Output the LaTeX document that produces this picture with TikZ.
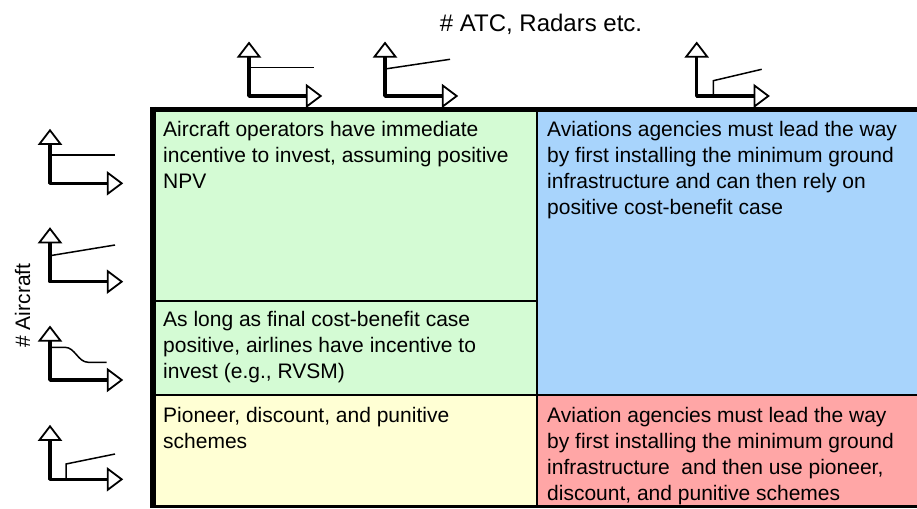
\documentclass[tikz,border=0pt]{standalone}
\usepackage{fontspec}
\setmainfont{Liberation Sans}
\definecolor{cellgreen}{RGB}{212,251,212}
\definecolor{cellblue}{RGB}{168,212,252}
\definecolor{cellyellow}{RGB}{255,255,212}
\definecolor{cellred}{RGB}{255,166,166}
\tikzset{
  celltext/.style={anchor=north west, inner sep=0pt, align=left, text=black,
    font=\fontsize{21}{25.8}\selectfont},
  axisline/.style={line width=3.5pt, line cap=round, line join=round},
  axishead/.style={line width=1.8pt, fill=white, line join=miter},
  dataline/.style={line width=1.5pt},
  gridline/.style={line width=2.5pt, black},
}
\newcommand{\trendaxes}{%
  \draw[axisline] (0,-39.3) -- (0,0) -- (57.7,0);
  \draw[axishead] (-10.5,-39.3) -- (10.5,-39.3) -- (0,-53) -- cycle;
  \draw[axishead] (57.7,-10.5) -- (57.7,10.5) -- (71.7,0) -- cycle;
}
\begin{document}
\begin{tikzpicture}[x=1pt, y=-1pt]
\useasboundingbox (0,0) rectangle (917,508);
% cell fills
\fill[cellgreen] (153,109) rectangle (537,395);
\fill[cellblue] (537,109) rectangle (917,395);
\fill[cellyellow] (153,395) rectangle (537,506);
\fill[cellred] (537,395) rectangle (917,506);
% grid lines
\draw[gridline] (153,301) -- (537,301);
\draw[gridline] (153,395) -- (917,395);
\draw[gridline] (537,109) -- (537,506);
\draw[line width=3pt] (150,506) -- (917,506);
\draw[line width=5pt] (150,109.5) -- (917,109.5);
\draw[line width=6pt] (153,107) -- (153,508);
% cell texts
\node[celltext] (tl) at (163,121.4) {Aircraft operators have immediate\\incentive to invest, assuming positive\\NPV};
\node[celltext] (tr) at (547,121.4) {Aviations agencies must lead the way\\by first installing the minimum ground\\infrastructure and can then rely on\\positive cost-benefit case};
\node[celltext] (ml) at (163,311.4) {As long as final cost-benefit case\\positive, airlines have incentive to\\invest (e.g., RVSM)};
\node[celltext] (bl) at (163,407.5) {Pioneer, discount, and punitive\\schemes};
\node[celltext] (br) at (547,407.5) {Aviation agencies must lead the way\\by first installing the minimum ground\\infrastructure\ \ and then use pioneer,\\discount, and punitive schemes};
% axis labels
\node[anchor=base, inner sep=0pt, font=\fontsize{24}{28}\selectfont] (atc) at (541,31.7) {\# ATC, Radars etc.};
\node[rotate=90, anchor=base, inner sep=0pt, font=\fontsize{21}{25}\selectfont] (acft) at (30,305.5) {\# Aircraft};
% top icons
\begin{scope}[shift={(249,96)}]
  \trendaxes
  \draw[dataline] (0,-28.3) -- (65.3,-28.3);
\end{scope}
\begin{scope}[shift={(385,96)}]
  \trendaxes
  \draw[dataline] (0,-27) -- (65,-36.7);
\end{scope}
\begin{scope}[shift={(696.7,96)}]
  \trendaxes
  \draw[dataline] (16.6,0) -- (16.6,-15.3) -- (65,-26.7);
\end{scope}
% left icons
\begin{scope}[shift={(50,183.3)}]
  \trendaxes
  \draw[dataline] (0,-28.3) -- (65,-28.3);
\end{scope}
\begin{scope}[shift={(50,281.7)}]
  \trendaxes
  \draw[dataline] (0,-26) -- (65,-36.7);
\end{scope}
\begin{scope}[shift={(50,380)}]
  \trendaxes
  \draw[dataline] (1.7,-32.7) -- (15,-32.7) .. controls (25,-32.7) and (28,-17.7) .. (38.3,-17.7) -- (56.7,-17.7);
\end{scope}
\begin{scope}[shift={(50,479.3)}]
  \trendaxes
  \draw[dataline] (16,0) -- (16,-15.3) -- (65,-25.3);
\end{scope}
\end{tikzpicture}
\end{document}
